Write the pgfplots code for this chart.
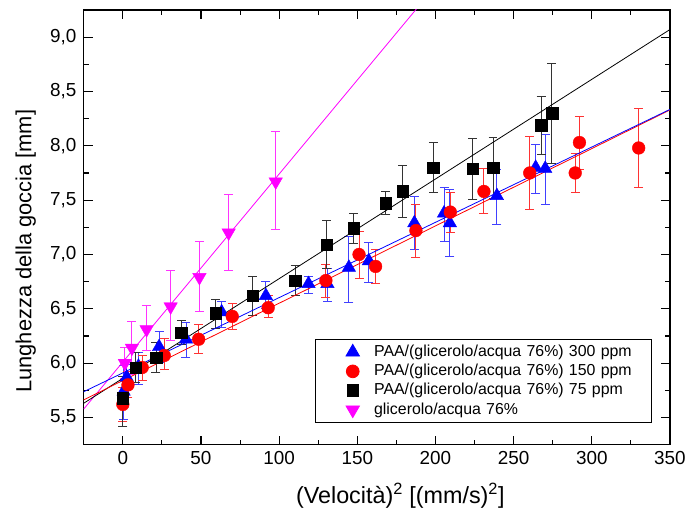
\documentclass[border=0pt]{standalone}
\usepackage{pgfplots}
\pgfplotsset{compat=1.18}
\usepackage{pgfplotstable}
\usepackage{fontspec}
\setmainfont{Liberation Sans}
\definecolor{mag}{RGB}{255,0,255}

\pgfplotstableread{
x y ep em
0.5 5.74 0.24 0.26
2.5 5.87 0.12 0.12
10 5.97 0.13 0.17
23.2 6.15 0.14 0.14
40.4 6.22 0.15 0.17
63.2 6.47 0.10 0.14
91.5 6.62 0.13 0.12
118.8 6.73 0.07 0.09
130.9 6.73 0.14 0.16
144.6 6.88 0.29 0.32
157.4 6.94 0.17 0.20
186.5 7.29 0.24 0.24
205.5 7.38 0.24 0.26
209.2 7.29 0.31 0.31
239.3 7.54 0.24 0.26
264.1 7.80 0.21 0.24
270.2 7.79 0.31 0.33
}\blue

\pgfplotstableread{
x y ep em
0 5.62 0.16 0.16
3.3 5.80 0.12 0.12
12.4 5.96 0.11 0.12
26.5 6.07 0.16 0.13
48.5 6.22 0.14 0.13
70 6.43 0.12 0.12
93 6.51 0.11 0.09
129.9 6.76 0.15 0.16
151.1 7.00 0.21 0.22
161.7 6.89 0.16 0.16
187.5 7.22 0.24 0.25
209.5 7.39 0.18 0.19
231 7.58 0.21 0.20
260.3 7.75 0.34 0.34
289.4 7.75 0.18 0.18
292.1 8.03 0.24 0.25
330 7.98 0.36 0.36
}\red

\pgfplotstableread{
x y ep em
0 5.675 0.20 0.26
8.1 5.96 0.14 0.14
21.2 6.05 0.14 0.14
37.4 6.28 0.11 0.11
59.4 6.46 0.13 0.14
83.1 6.62 0.18 0.18
110.2 6.76 0.14 0.14
130.4 7.09 0.22 0.22
147.6 7.24 0.14 0.14
168.3 7.47 0.11 0.10
178.9 7.58 0.24 0.24
198.6 7.80 0.23 0.23
223.9 7.79 0.28 0.28
236.8 7.80 0.28 0.28
267.6 8.19 0.26 0.27
274.5 8.30 0.46 0.46
}\black

\pgfplotstableread{
x y ep em
1.3 6.00 0.14 0.14
5.8 6.14 0.24 0.24
15.2 6.31 0.22 0.19
30.6 6.52 0.33 0.31
49.0 6.79 0.33 0.31
67.7 7.20 0.35 0.35
97.8 7.67 0.46 0.44
}\pink

\begin{document}
\begin{tikzpicture}
\begin{axis}[
  name=ax,
  scale only axis,
  width=588bp, height=436bp,
  xmin=-25, xmax=350, ymin=5.25, ymax=9.25,
  xtick={0,50,...,350}, ytick={5.5,6,...,9},
  minor x tick num=1, minor y tick num=1,
  tick align=inside,
  major tick length=9bp, minor tick length=5bp,
  every tick/.style={black, line width=1.1bp},
  axis line style={line width=1.3bp},
  /pgf/number format/assume math mode=true,
  x tick label style={font=\fontsize{19}{22}\selectfont, yshift=-3bp},
  y tick label style={font=\fontsize{19}{22}\selectfont, xshift=-4bp,
     /pgf/number format/.cd, fixed, fixed zerofill, precision=1, use comma, /tikz/.cd},
  xlabel={(Velocità)\textsuperscript{2} [(mm/s)\textsuperscript{2}]},
  ylabel={Lunghezza della goccia [mm]},
  xlabel style={font=\fontsize{23.5}{27}\selectfont, at={(axis description cs:0.54,-0.117)}, anchor=center},
  ylabel style={font=\fontsize{22}{26}\selectfont, at={(axis description cs:-0.099,0.445)}, anchor=center},
  legend cell align=left,
  legend style={at={(axis description cs:0.3946,0.243)}, anchor=north west,
     draw=black, line width=0.8bp, inner xsep=0bp, inner ysep=3.5bp, row sep=0.8bp,
     font=\fontsize{16}{19}\selectfont,
     nodes={inner xsep=2bp, inner ysep=1.5bp, text height=12bp, text depth=3.5bp, text width=276bp, align=left}},
  legend image code/.code={\path (0bp,0bp) (56bp,0bp); \draw[#1, only marks] plot coordinates {(37bp,0bp)};},
  error bars/y dir=both, error bars/y explicit,
]
\addplot[blue, only marks, mark=triangle*, mark size=7.8bp, mark options={fill=blue, draw=blue},
  error bars/error bar style={blue!75, line width=0.9bp},
  error bars/error mark options={rotate=90, mark size=4.5bp, blue!75, line width=0.9bp}]
  table[x=x, y=y, y error plus=ep, y error minus=em] {\blue};
\addlegendentry{PAA/(glicerolo/acqua 76\%) 300 ppm}
\addplot[red, only marks, mark=*, mark size=6.4bp, mark options={fill=red, draw=red},
  error bars/error bar style={red!80, line width=0.9bp},
  error bars/error mark options={rotate=90, mark size=4.5bp, red!80, line width=0.9bp}]
  table[x=x, y=y, y error plus=ep, y error minus=em] {\red};
\addlegendentry{PAA/(glicerolo/acqua 76\%) 150 ppm}
\addplot[black, only marks, mark=square*, mark size=5.8bp, mark options={fill=black, draw=black},
  error bars/error bar style={black!80, line width=0.9bp},
  error bars/error mark options={rotate=90, mark size=4.5bp, black!80, line width=0.9bp}]
  table[x=x, y=y, y error plus=ep, y error minus=em] {\black};
\addlegendentry{PAA/(glicerolo/acqua 76\%) 75 ppm}
\addplot[mag, only marks, mark=triangle*, mark size=7.8bp, mark options={fill=mag, draw=mag, rotate=180},
  error bars/error bar style={mag!80, line width=0.9bp},
  error bars/error mark options={rotate=90, mark size=4.5bp, mag!80, line width=0.9bp}]
  table[x=x, y=y, y error plus=ep, y error minus=em] {\pink};
\addlegendentry{glicerolo/acqua 76\%}
% linear fits
\addplot[mag, line width=0.8bp, no marks, forget plot, error bars/y dir=none] coordinates {(-25,5.578) (200,9.47)};
\addplot[black, line width=0.8bp, no marks, forget plot, error bars/y dir=none] coordinates {(-25,5.631) (350,9.07)};
\addplot[red, line width=0.8bp, no marks, forget plot, error bars/y dir=none] coordinates {(-25,5.662) (350,8.33)};
\addplot[blue, line width=0.8bp, no marks, forget plot, error bars/y dir=none] coordinates {(-25,5.737) (350,8.335)};
\end{axis}
\path ([xshift=-84bp,yshift=-74bp]ax.south west) rectangle ([xshift=17bp,yshift=10bp]ax.north east);
\end{tikzpicture}
\end{document}
